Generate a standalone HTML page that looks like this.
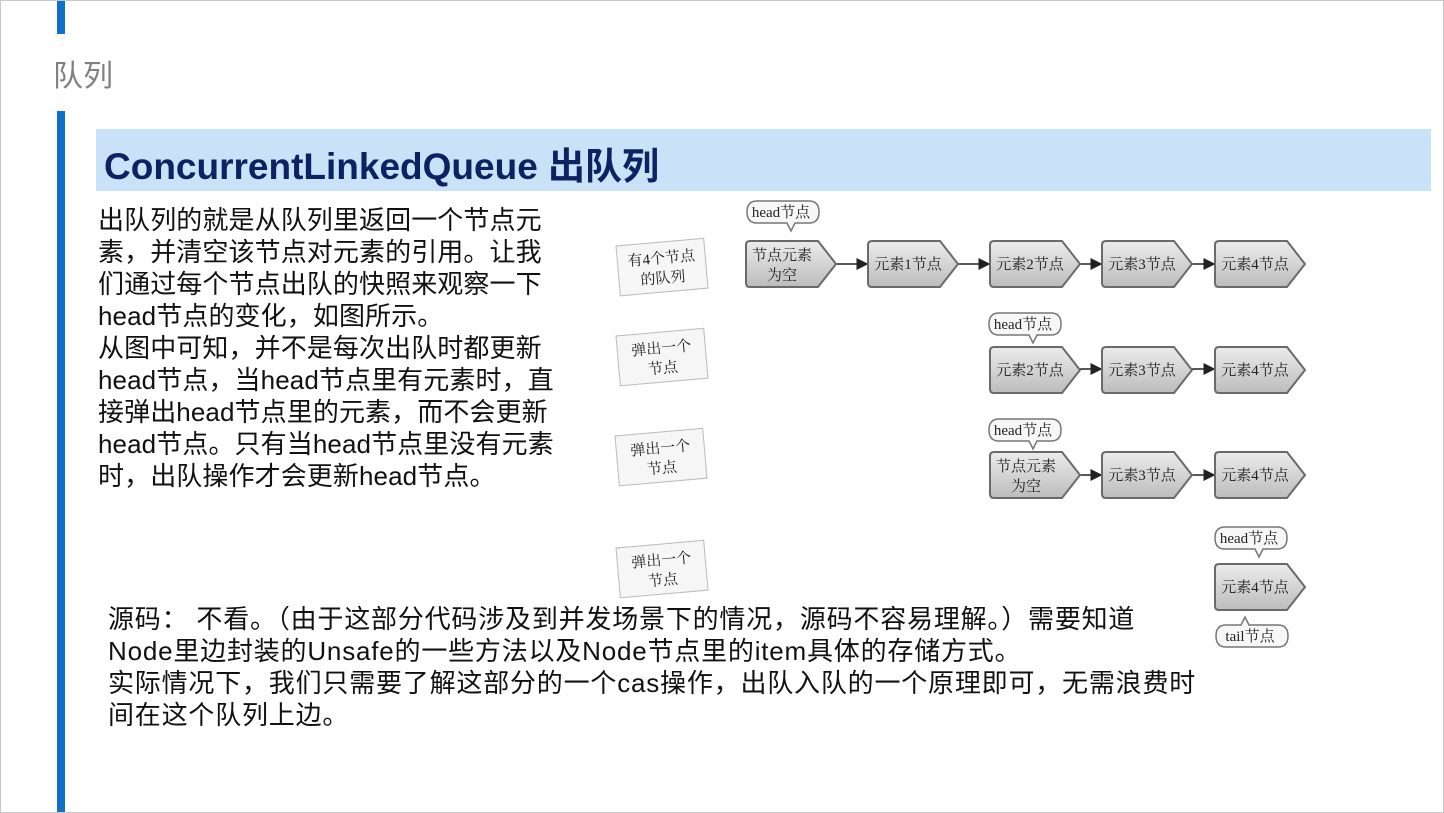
<!DOCTYPE html>
<html><head><meta charset="utf-8"><style>
html,body{margin:0;padding:0;background:#fff}
#p{position:relative;width:1442px;height:811px;border:1px solid #c8c8c8;overflow:hidden;font-family:"Liberation Sans","Noto Sans CJK SC",sans-serif}
.bar{position:absolute;left:56px;width:8px;background:#1270c8}
.t{position:absolute;color:#111;font-size:26px;line-height:32px;white-space:nowrap}
svg text{font-family:"Liberation Serif","Noto Serif CJK SC",serif;fill:#222}
</style></head><body><div id="p">
<div class="bar" style="top:0;height:33px"></div>
<div style="position:absolute;left:52px;top:50px;font-size:30px;color:#808080">队列</div>
<div class="bar" style="top:110px;height:703px"></div>
<div style="position:absolute;left:95px;top:128px;width:1335px;height:62px;background:#c9e2f8"></div>
<div style="position:absolute;left:103px;top:135px;font-size:37px;font-weight:bold;color:#0d2260;letter-spacing:0px">ConcurrentLinkedQueue 出队列</div>
<div class="t" style="left:97px;top:203px;letter-spacing:0.1px">出队列的就是从队列里返回一个节点元<br>素，并清空该节点对元素的引用。让我<br>们通过每个节点出队的快照来观察一下<br>head节点的变化，如图所示。<br>从图中可知，并不是每次出队时都更新<br>head节点，当head节点里有元素时，直<br>接弹出head节点里的元素，而不会更新<br>head节点。只有当head节点里没有元素<br>时，出队操作才会更新head节点。</div>
<svg style="position:absolute;left:0;top:0" width="1444" height="813">
<defs>
<linearGradient id="g" x1="0" y1="0" x2="0" y2="1"><stop offset="0" stop-color="#ececec"/><stop offset="1" stop-color="#bcbcbc"/></linearGradient>
<path id="n" d="M4,0 L72,0 L90,23 L72,46 L4,46 Q0,46 0,42 L0,4 Q0,0 4,0 Z" fill="url(#g)" stroke="#6a6a6a" stroke-width="2"/>
<path id="h" d="M10,0 L62,0 Q72,0 72,11 Q72,22 62,22 L48,22 L44,30 L40,22 L10,22 Q0,22 0,11 Q0,0 10,0 Z" fill="#f7f7f7" stroke="#777" stroke-width="1.5"/>
<path id="tl" d="M10,8 L25,8 L29,0 L33,8 L62,8 Q72,8 72,19 Q72,30 62,30 L10,30 Q0,30 0,19 Q0,8 10,8 Z" fill="#f7f7f7" stroke="#777" stroke-width="1.5"/>
<marker id="a" markerWidth="8" markerHeight="8" refX="7" refY="4" orient="auto"><path d="M0,0 L8,4 L0,8Z" fill="#222"/></marker>
<rect id="c" width="88" height="50" fill="#f6f6f6" stroke="#bbb"/>
</defs>
<g font-size="15" text-anchor="middle">
<g transform="translate(615,245) rotate(-5)"><use href="#c"/><text x="44" y="21">有4个节点</text><text x="44" y="41">的队列</text></g>
<g transform="translate(615,335) rotate(-5)"><use href="#c"/><text x="44" y="21">弹出一个</text><text x="44" y="41">节点</text></g>
<g transform="translate(614,435) rotate(-5)"><use href="#c"/><text x="44" y="21">弹出一个</text><text x="44" y="41">节点</text></g>
<g transform="translate(615,547) rotate(-5)"><use href="#c"/><text x="44" y="21">弹出一个</text><text x="44" y="41">节点</text></g>
<g stroke="#222" stroke-width="1.5" marker-end="url(#a)">
<line x1="835" y1="263" x2="866" y2="263"/><line x1="957" y1="263" x2="988" y2="263"/><line x1="1079" y1="263" x2="1100" y2="263"/><line x1="1191" y1="263" x2="1213" y2="263"/>
<line x1="1079" y1="368" x2="1100" y2="368"/><line x1="1191" y1="368" x2="1213" y2="368"/>
<line x1="1079" y1="474" x2="1100" y2="474"/><line x1="1191" y1="474" x2="1213" y2="474"/>
</g>
<g transform="translate(746,200)"><use href="#h"/><text x="34" y="16">head节点</text></g>
<g transform="translate(745,240)"><use href="#n"/><text x="36" y="19">节点元素</text><text x="36" y="39">为空</text></g>
<g transform="translate(867,240)"><use href="#n"/><text x="40" y="28">元素1节点</text></g>
<g transform="translate(989,240)"><use href="#n"/><text x="40" y="28">元素2节点</text></g>
<g transform="translate(1101,240)"><use href="#n"/><text x="40" y="28">元素3节点</text></g>
<g transform="translate(1214,240)"><use href="#n"/><text x="40" y="28">元素4节点</text></g>
<g transform="translate(988,312)"><use href="#h"/><text x="34" y="16">head节点</text></g>
<g transform="translate(989,346)"><use href="#n"/><text x="40" y="28">元素2节点</text></g>
<g transform="translate(1101,346)"><use href="#n"/><text x="40" y="28">元素3节点</text></g>
<g transform="translate(1214,346)"><use href="#n"/><text x="40" y="28">元素4节点</text></g>
<g transform="translate(988,418)"><use href="#h"/><text x="34" y="16">head节点</text></g>
<g transform="translate(989,451)"><use href="#n"/><text x="36" y="19">节点元素</text><text x="36" y="39">为空</text></g>
<g transform="translate(1101,451)"><use href="#n"/><text x="40" y="28">元素3节点</text></g>
<g transform="translate(1214,451)"><use href="#n"/><text x="40" y="28">元素4节点</text></g>
<g transform="translate(1214,526)"><use href="#h"/><text x="34" y="16">head节点</text></g>
<g transform="translate(1214,563)"><use href="#n"/><text x="40" y="28">元素4节点</text></g>
<g transform="translate(1215,616)"><use href="#tl"/><text x="34" y="24">tail节点</text></g>
</g>
</svg>
<div class="t" style="left:107px;top:602px;letter-spacing:0.8px">源码： 不看。（由于这部分代码涉及到并发场景下的情况，源码不容易理解。）需要知道<br>Node里边封装的Unsafe的一些方法以及Node节点里的item具体的存储方式。<br>实际情况下，我们只需要了解这部分的一个cas操作，出队入队的一个原理即可，无需浪费时<br>间在这个队列上边。</div>
</div></body></html>
